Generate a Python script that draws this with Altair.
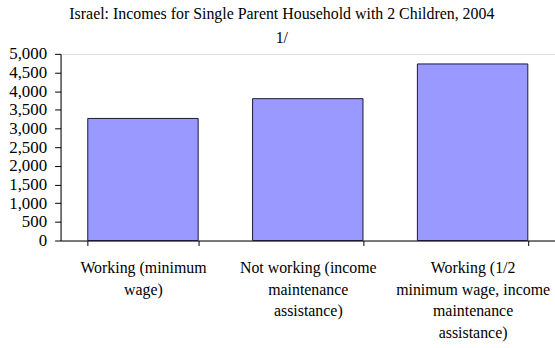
import altair as alt
import pandas as pd

categories = [
    "Working (minimum|wage)",
    "Not working (income|maintenance|assistance)",
    "Working (1/2|minimum wage, income|maintenance|assistance)",
]
values = [3270, 3800, 4730]
y_ticks = [0, 500, 1000, 1500, 2000, 2500, 3000, 3500, 4000, 4500, 5000]

df = pd.DataFrame({"category": categories, "value": values})

FONT = "Liberation Serif"

chart = alt.Chart(df).mark_bar(
    color="#9999FF", stroke="#1a1a33", strokeWidth=1
).encode(
    x=alt.X(
        "category:N",
        sort=categories,
        title=None,
        scale=alt.Scale(paddingInner=0.33, paddingOuter=0.165),
        axis=alt.Axis(
            labelAngle=0,
            labelExpr="split(datum.label, '|')",
            labelFont=FONT,
            labelFontSize=16,
            labelColor="#000000",
            labelLineHeight=22,
            labelPadding=14,
            labelLimit=0,
            tickBand="extent",
            tickColor="#000000",
            domainColor="#000000",
            tickSize=5,
            labelBaseline="top",
        ),
    ),
    y=alt.Y(
        "value:Q",
        title=None,
        scale=alt.Scale(domain=[0, 5000], nice=False),
        axis=alt.Axis(
            values=y_ticks,
            format=",.0f",
            labelFont=FONT,
            labelFontSize=17,
            labelColor="#000000",
            tickColor="#000000",
            domainColor="#000000",
            tickSize=6,
            labelPadding=8,
            grid=False,
        ),
    ),
).properties(
    width=498,
    height=188,
    title=alt.TitleParams(
        text=["Israel: Incomes for Single Parent Household with 2 Children, 2004", "1/"],
        font=FONT,
        fontSize=16,
        fontWeight="normal",
        color="#000000",
        anchor="middle",
        frame="bounds",
        lineHeight=24,
        offset=-1,
    ),
    autosize=alt.AutoSizeParams(type="none"),
    padding={"left": 61, "top": 53, "right": 0, "bottom": 107},
).configure_view(stroke=None).configure(background="white", font=FONT)

chart.save("out.html", embed_options={"renderer": "svg", "actions": False})
